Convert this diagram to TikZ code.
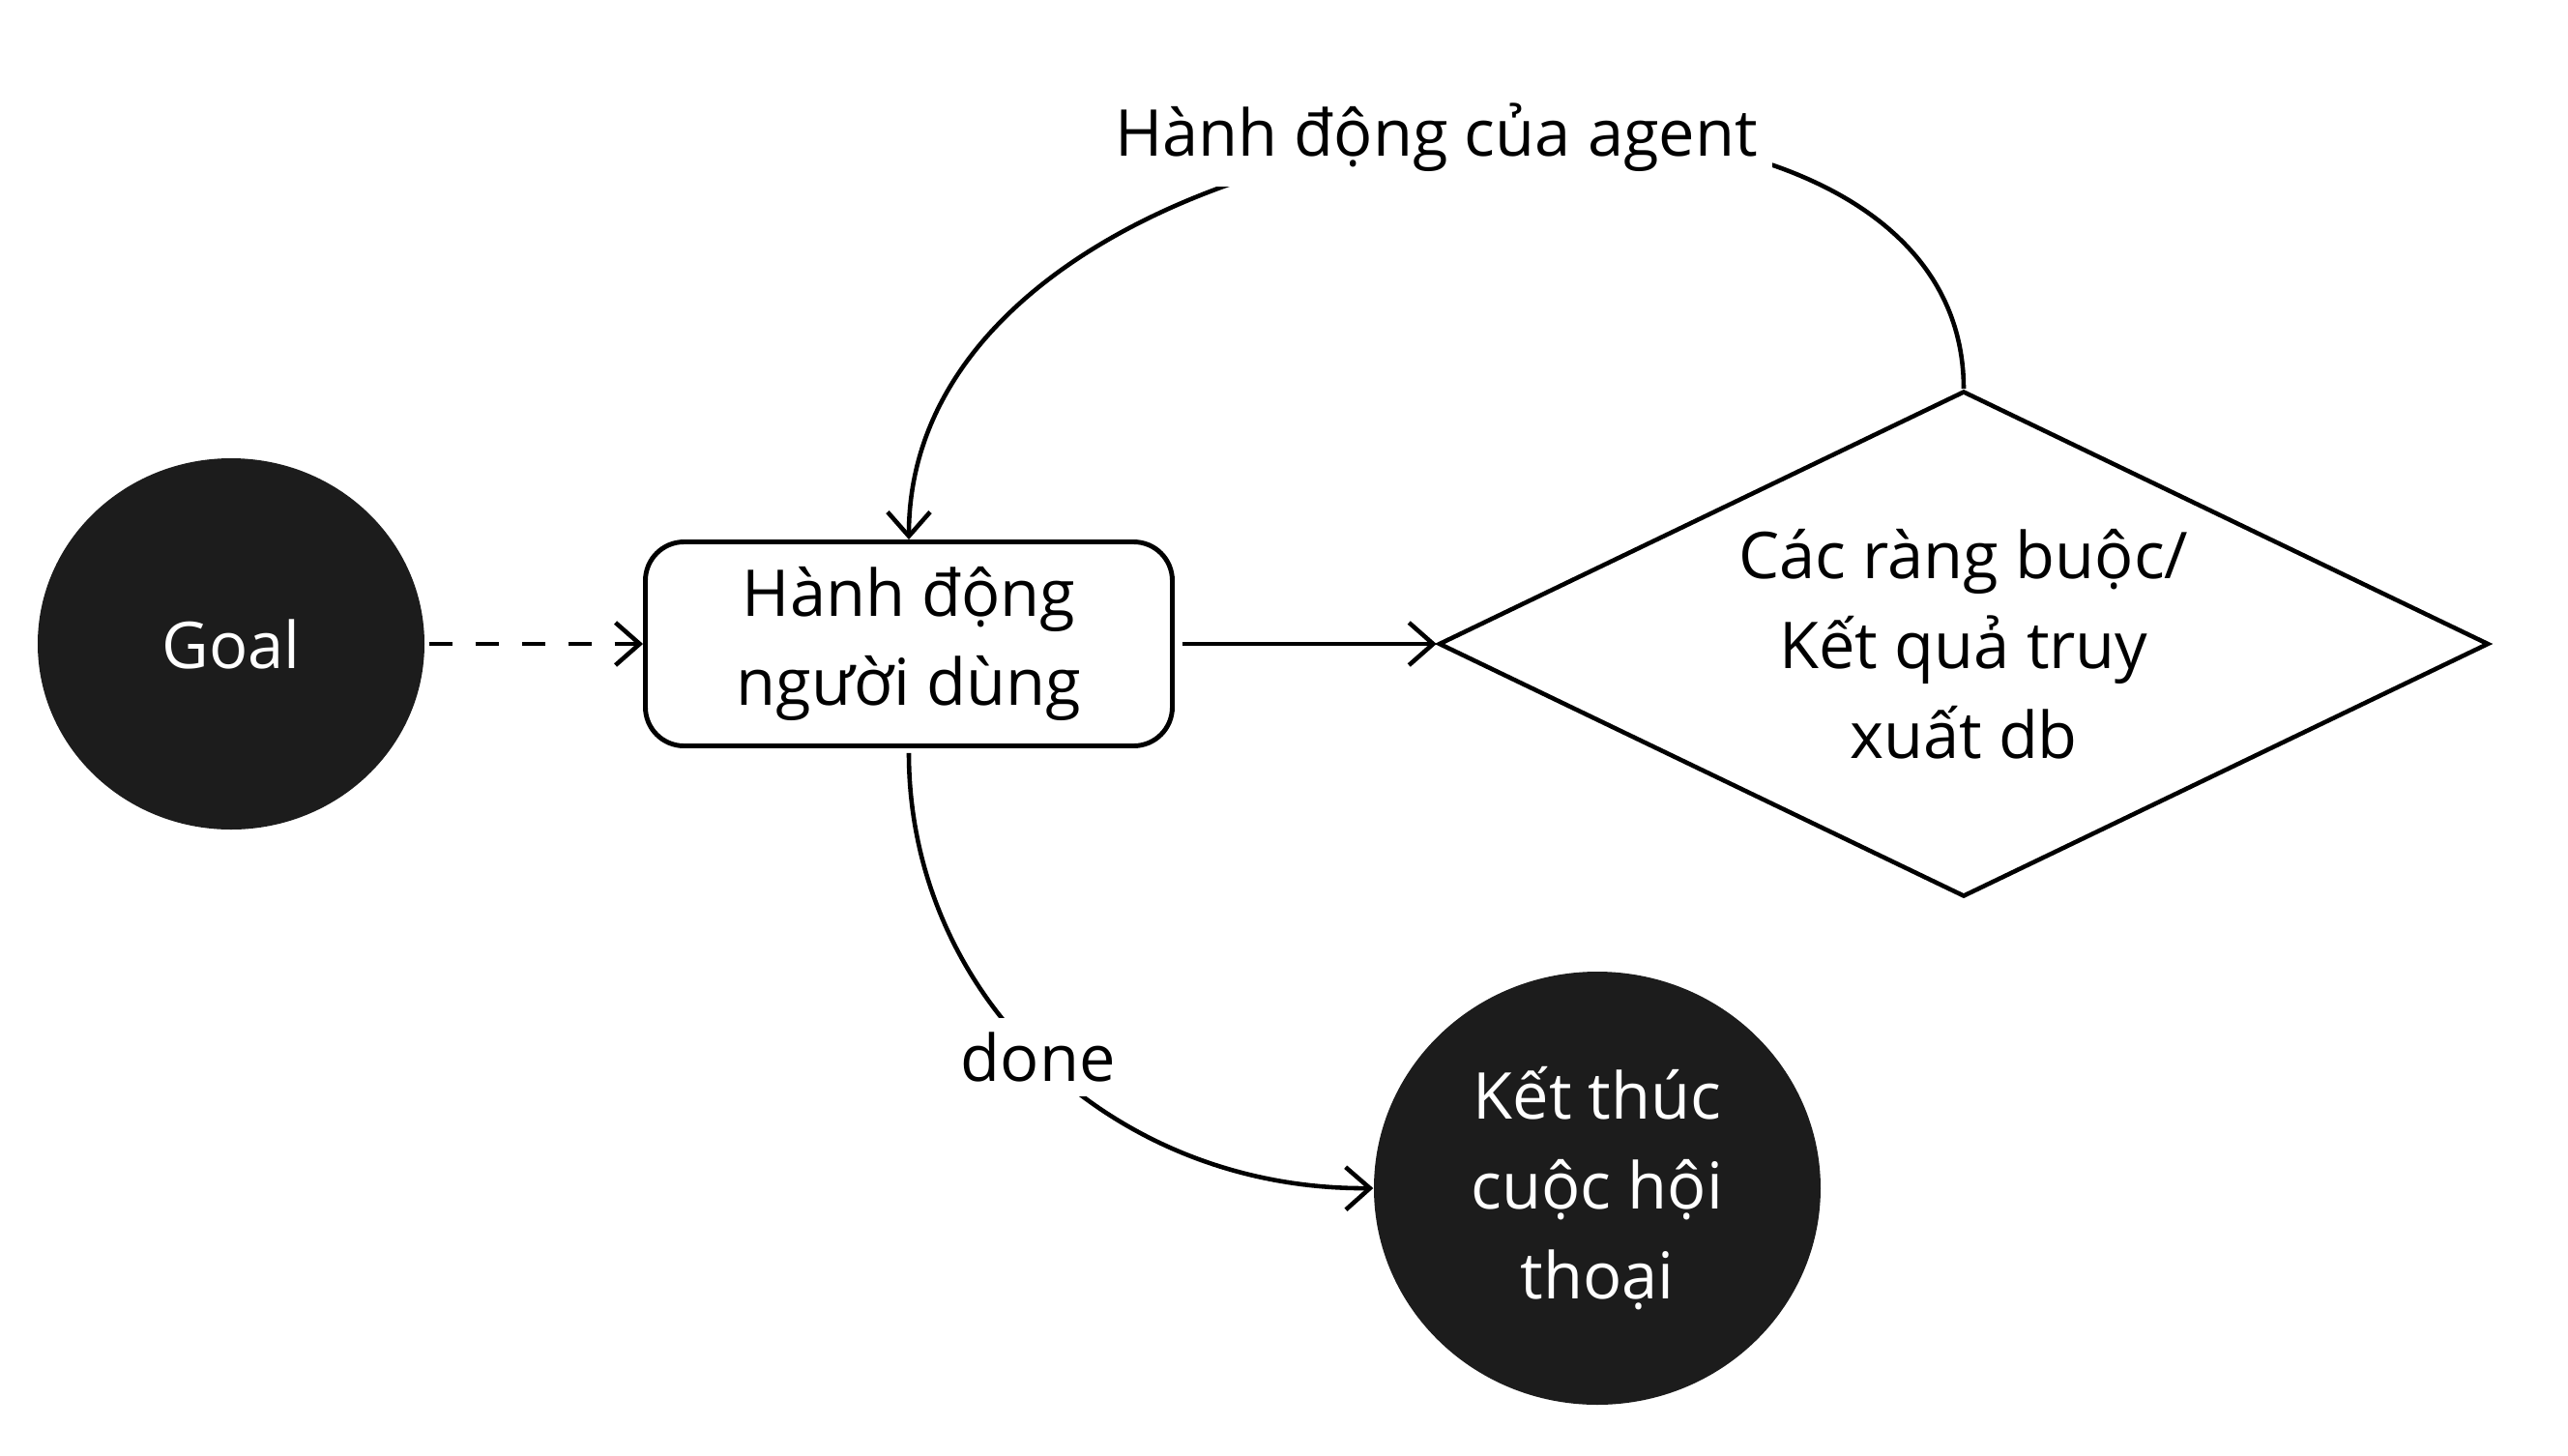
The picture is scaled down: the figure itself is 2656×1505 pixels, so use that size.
\documentclass[tikz,border=0pt]{standalone}
\usepackage{fontspec}
\setmainfont{Open Sans}
\usepackage{xcolor}
\usepackage{tikz}
\usetikzlibrary{shapes.geometric, arrows.meta, positioning}

\definecolor{darkfill}{HTML}{1C1C1C}

\begin{document}
\begin{tikzpicture}[x=0.1mm, y=-0.1mm, node distance=2cm,
  font=\fontsize{19pt}{26.4pt}\selectfont]
\tikzstyle{startstop} = [ellipse, fill=darkfill, text=white, align=center, inner sep=0pt]
\tikzstyle{process} = [rectangle, rounded corners=4mm, minimum width=54.5mm, minimum height=21.1mm, align=center, draw=black, line width=1.4pt, fill=white]
\tikzstyle{decision} = [diamond, aspect=2.08, minimum width=108.6mm, minimum height=52.3mm, inner sep=0pt, align=center, draw=black, line width=1.3pt]
\tikzstyle{edgelabel} = [fill=white, inner sep=1.5mm, text=black]
\tikzstyle{arrow} = [line width=1.3pt, -{Straight Barb[length=2.5mm, width=4.4mm]}]

\useasboundingbox (0,0) rectangle (2656,1505);

\node (goal) [startstop, minimum width=40mm, minimum height=38.4mm] at (239,666) {Goal};
\node (user) [process, right of=goal, xshift=50.1mm] {Hành động\\người dùng};
\node (check) [decision, right of=user, xshift=89.1mm] {Các ràng buộc/\\Kết quả truy\\xuất db};
\node (finish) [startstop, below of=user, yshift=-36.3mm, xshift=71.2mm, minimum width=46.2mm, minimum height=44.8mm] {Kết thúc\\cuộc hội\\thoại};

\draw [arrow, dash pattern=on 2.4mm off 2.4mm, shorten <=0.4mm] (goal) -- (user);
\draw [arrow, shorten <=0.8mm] (user) -- (check);
\draw [arrow] (check.north) .. controls (2031,-20) and (940,80) .. node [edgelabel] {Hành động của agent} (user.north);
\draw [arrow, shorten <=0.5mm] (user.south) .. controls (940,1030) and (1150,1231) .. node [edgelabel, pos=0.49] {done} (finish.west);

\end{tikzpicture}
\end{document}
